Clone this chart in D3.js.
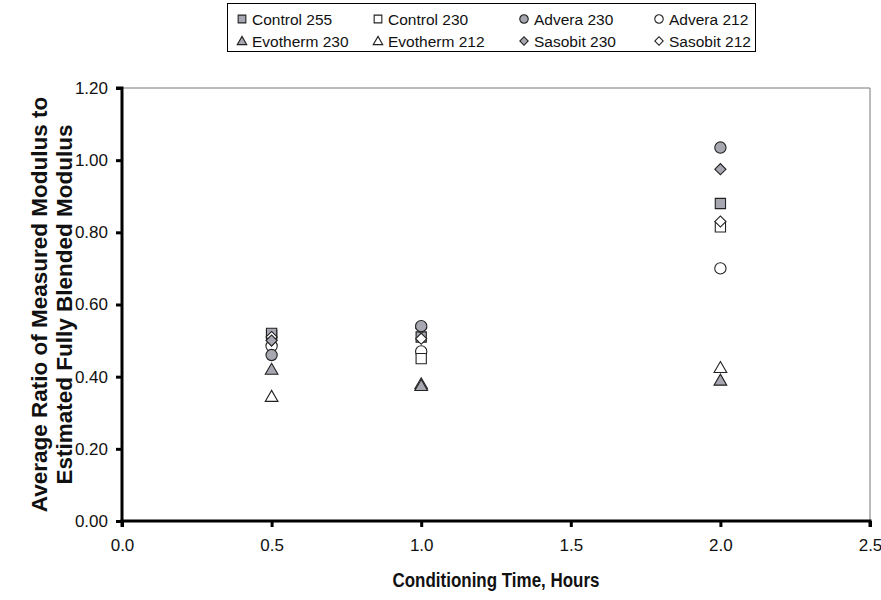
<!DOCTYPE html>
<html><head><meta charset="utf-8">
<script src="https://cdn.jsdelivr.net/npm/d3@7"></script>
<style>body{margin:0;background:#fff}svg{display:block}text{font-family:"Liberation Sans",Arial,sans-serif}</style>
</head><body><svg id="c" width="881" height="600"></svg>
<script>
const times = [0.5, 1.0, 2.0];
const seriesNames = ["Control 255","Control 230","Advera 230","Advera 212","Evotherm 230","Evotherm 212","Sasobit 230","Sasobit 212"];
const shapes = ["square","square","circle","circle","triangle","triangle","diamond","diamond"];
const filled = [true,false,true,false,true,false,true,false];
const control255 = [0.52, 0.51, 0.88];
const control230 = [0.515, 0.45, 0.815];
const advera230 = [0.46, 0.54, 1.035];
const advera212 = [0.485, 0.47, 0.70];
const evotherm230 = [0.42, 0.375, 0.39];
const evotherm212 = [0.345, 0.38, 0.425];
const sasobit230 = [0.50, 0.535, 0.975];
const sasobit212 = [0.51, 0.505, 0.83];
const seriesValues = [control255, control230, advera230, advera212, evotherm230, evotherm212, sasobit230, sasobit212];
const xTicks = [0, 0.5, 1.0, 1.5, 2.0, 2.5];
const yTicks = [0, 0.2, 0.4, 0.6, 0.8, 1.0, 1.2];
const drawOrder = [5,4,3,1,0,7,6,2];

const svg = d3.select("#c");
const L=122, R=870, T=88, B=521;
const x = d3.scaleLinear().domain([0,2.5]).range([L,R]);
const y = d3.scaleLinear().domain([0,1.2]).range([B,T]);
const grayFill = "#a6a7b0", ink = "#222";

svg.append("line").attr("x1",L).attr("x2",R).attr("y1",T).attr("y2",T).attr("stroke","#777").attr("stroke-width",1);
svg.append("line").attr("x1",R).attr("x2",R).attr("y1",T).attr("y2",B).attr("stroke","#777").attr("stroke-width",1);

const yAxis = svg.append("g").attr("transform",`translate(${L},0)`)
  .call(d3.axisLeft(y).tickValues(yTicks).tickFormat(d3.format(".2f")).tickSize(6).tickPadding(8));
const xAxis = svg.append("g").attr("transform",`translate(0,${B})`)
  .call(d3.axisBottom(x).tickValues(xTicks).tickFormat(d3.format(".1f")).tickSize(6).tickPadding(12));
[yAxis,xAxis].forEach(g=>{
  g.select(".domain").attr("stroke","#000").attr("stroke-width",3);
  g.selectAll(".tick line").attr("stroke","#000").attr("stroke-width",3);
  g.selectAll(".tick text").attr("fill","#111").style("font-size","17px").style("font-family","'Liberation Sans',Arial,sans-serif");
});
yAxis.select(".domain").attr("d",`M-6,${T}H0V${B}`);
xAxis.select(".domain").attr("d",`M${L},6V0H${R}V6`);

function sym(shape){
  if (shape==="diamond") return d3.symbol().type(d3.symbolSquare).size(62)();
  const m = {square:d3.symbolSquare, circle:d3.symbolCircle, triangle:d3.symbolTriangle};
  const s = {square:105, circle:100, triangle:70};
  return d3.symbol().type(m[shape]).size(s[shape])();
}
function drawMarker(g, i, cx, cy, scale){
  const sc = scale||1;
  const dy = shapes[i]==="triangle" ? 1.2*sc : 0;
  const rot = shapes[i]==="diamond" ? " rotate(45)" : "";
  g.append("path").attr("d", sym(shapes[i]))
    .attr("transform", `translate(${cx},${cy+dy}) scale(${sc})${rot}`)
    .attr("fill", filled[i]?grayFill:"#fff").attr("stroke", ink).attr("stroke-width", 1.1/sc);
}
const pts = svg.append("g");
drawOrder.forEach(i=>{
  seriesValues[i].forEach((v,j)=> drawMarker(pts, i, x(times[j]), y(v), 1));
});

svg.append("rect").attr("x",227.5).attr("y",3.5).attr("width",528).attr("height",48).attr("fill","#fff").attr("stroke","#000").attr("stroke-width",1);
const colX = [242, 378, 524, 659];
seriesNames.forEach((n,i)=>{
  const cx = colX[i%4], cy = i<4?19:41;
  drawMarker(svg, i, cx, cy, 0.75);
  svg.append("text").attr("x",cx+10).attr("y",cy+6).text(n).style("font-size","15.5px").attr("fill","#111");
});

svg.append("text").attr("x",(L+R)/2).attr("y",587).attr("text-anchor","middle")
  .attr("textLength",207).attr("lengthAdjust","spacingAndGlyphs")
  .style("font-size","20px").style("font-weight","bold").attr("fill","#111").text("Conditioning Time, Hours");
const yt = svg.append("text").attr("transform",`translate(0,${(T+B)/2}) rotate(-90)`).attr("text-anchor","middle")
  .style("font-size","22.5px").style("font-weight","bold").attr("fill","#111");
yt.append("tspan").attr("x",0).attr("y",47).text("Average Ratio of Measured Modulus to");
yt.append("tspan").attr("x",0).attr("y",72).text("Estimated Fully Blended Modulus");
</script></body></html>
